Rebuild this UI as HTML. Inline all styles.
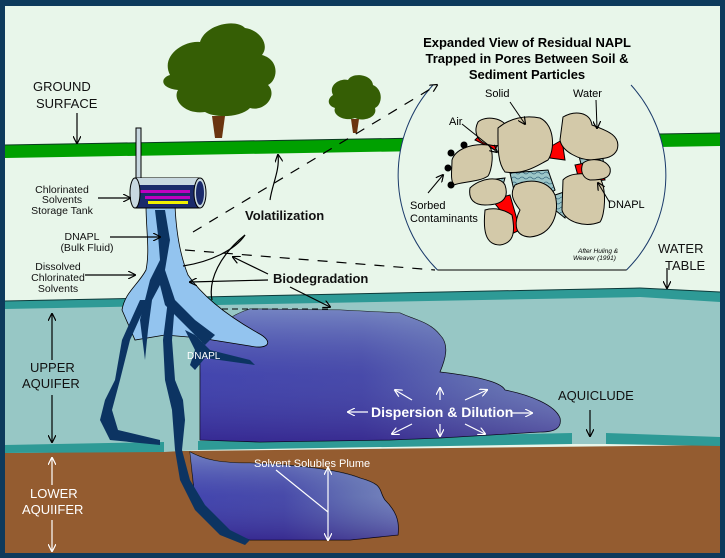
<!DOCTYPE html>
<html><head><meta charset="utf-8"><style>
html,body{margin:0;padding:0;background:#fff}
svg{display:block}
text{font-family:"Liberation Sans",Arial,sans-serif}
</style></head><body>
<svg width="725" height="558" viewBox="0 0 725 558" xmlns="http://www.w3.org/2000/svg">
<defs>
<linearGradient id="pl" x1="0" y1="0" x2="1" y2="0">
<stop offset="0" stop-color="#3f3fae"/><stop offset="0.45" stop-color="#4545a8"/><stop offset="0.8" stop-color="#6a78b4"/><stop offset="1" stop-color="#7f8fc2"/></linearGradient>
<linearGradient id="plv" x1="0" y1="0" x2="0" y2="1">
<stop offset="0" stop-color="#8aa0cc" stop-opacity="0.7"/><stop offset="0.5" stop-color="#5560b0" stop-opacity="0.2"/><stop offset="1" stop-color="#301a80" stop-opacity="0.6"/></linearGradient>
<pattern id="wv" width="8" height="5" patternUnits="userSpaceOnUse"><rect width="8" height="5" fill="#9cc6c8"/><path d="M0,3 Q2,1 4,3 T8,3" fill="none" stroke="#3a6a80" stroke-width="0.8"/></pattern>
<marker id="ah" markerWidth="8" markerHeight="8" refX="7" refY="4" orient="auto" markerUnits="userSpaceOnUse"><path d="M0,0 L8,4 L0,8" fill="none" stroke="#000" stroke-width="1.2"/></marker>
<marker id="aw" markerWidth="8" markerHeight="8" refX="7" refY="4" orient="auto" markerUnits="userSpaceOnUse"><path d="M0,0 L8,4 L0,8" fill="none" stroke="#fff" stroke-width="1.2"/></marker>
</defs>
<rect width="725" height="558" fill="#0d3a5c"/>
<rect x="5" y="6" width="715" height="547" fill="#e8f6ea"/>
<!-- ground -->
<polygon points="5,145 720,133 720,146 5,158" fill="#00a000"/>
<line x1="5" y1="145" x2="720" y2="133" stroke="#0a3a20" stroke-width="1"/>
<!-- upper aquifer -->
<polygon points="5,301 640,290 720,295 720,440 5,447" fill="#97c7c5"/>
<polygon points="5,301 640,288 720,292 720,302 640,297 5,309" fill="#2e9a96"/>
<line x1="5" y1="301" x2="640" y2="288" stroke="#0d3a3a"/><line x1="640" y1="288" x2="720" y2="292" stroke="#0d3a3a"/>
<!-- lower -->
<polygon points="5,453 720,445 720,553 5,553" fill="#945c30"/>
<polygon points="5,445 164,442 164,452 5,453" fill="#2e9a96"/>
<polygon points="198,441 572,433 572,444 198,450" fill="#2e9a96"/>
<polygon points="606,433 720,437 720,446 606,444" fill="#2e9a96"/>
<polygon points="164,442 198,441 198,450 164,452" fill="#97c7c5"/>
<polygon points="572,433 606,433 606,444 572,444" fill="#97c7c5"/>
<!-- trees -->
<path d="M170,75 C160,55 185,40 200,42 C205,25 235,18 245,28 C260,30 270,45 262,55 C280,60 278,80 268,85 C278,95 265,112 250,108 C240,118 215,118 205,112 C185,115 172,100 178,90 C160,88 160,78 170,75 Z" fill="#355e05"/>
<path d="M212,116 L225,116 L222,138 L215,138 Z" fill="#6a3410"/>
<path d="M333,95 C328,85 340,78 348,80 C352,72 372,74 373,85 C384,90 382,105 375,108 C378,118 362,122 355,118 C345,122 332,115 335,108 C326,105 328,98 333,95 Z" fill="#355e05"/>
<path d="M351,119 L359,119 L357,133 L353,133 Z" fill="#6a3410"/>
<!-- circle -->
<path d="M437.5,270 A134,134 0 0 1 433,85 L631,85 A134,134 0 0 1 626.5,270 Z" fill="#e8f6ea"/>
<path d="M437.5,270 A134,134 0 0 1 433,85 M631,85 A134,134 0 0 1 626.5,270" fill="none" stroke="#1a3a6a" stroke-width="1"/>
<line x1="437.5" y1="270" x2="626.5" y2="270" stroke="#000" stroke-width="1"/>
<!-- particles -->
<g stroke="#000" stroke-width="1">
<path d="M510,173 L548,170 L555,190 L540,200 L515,195 Z" fill="url(#wv)"/>
<path d="M575,140 L600,135 L605,175 L585,180 Z" fill="url(#wv)"/>
<path d="M555,195 L570,190 L565,218 L555,210 Z" fill="url(#wv)"/>
<path d="M488,180 L505,178 L500,195 Z" fill="url(#wv)"/>
<path d="M548,148 L562,140 L565,160 L550,158 Z" fill="#f00"/>
<path d="M575,165 L600,160 L605,180 L580,183 Z" fill="#f00"/>
<path d="M492,200 L510,195 L520,230 L505,237 L500,210 Z" fill="#f00"/>
<path d="M475,140 L480,135 L500,140 L495,150 Z" fill="#f00"/>
<path d="M478,122 C485,115 505,118 507,128 C510,140 505,148 490,145 C475,142 474,130 478,122 Z" fill="#d3c9a9"/>
<path d="M452,160 C455,150 470,143 488,145 C495,150 492,170 488,176 C480,182 460,182 454,185 C450,180 452,170 452,160 Z" fill="#d3c9a9"/>
<path d="M498,128 C510,118 525,115 540,118 C555,125 555,150 548,160 C538,165 525,175 505,172 C497,162 498,145 498,128 Z" fill="#d3c9a9"/>
<path d="M563,117 C575,110 590,112 592,125 C605,130 622,135 617,150 C612,160 600,158 592,160 C580,160 562,152 560,140 Z" fill="#d3c9a9"/>
<path d="M470,188 C480,178 500,175 505,185 C510,200 500,205 485,205 C475,205 468,200 470,188 Z" fill="#d3c9a9"/>
<path d="M515,185 C530,178 548,180 555,195 C560,212 553,235 530,237 C512,236 515,220 520,210 C512,200 510,193 515,185 Z" fill="#d3c9a9"/>
<path d="M485,210 C495,207 505,210 512,215 C515,230 515,243 500,245 C485,245 483,230 485,210 Z" fill="#d3c9a9"/>
<path d="M563,180 C570,172 590,172 600,178 C607,190 605,215 600,222 C585,228 565,222 562,210 Z" fill="#d3c9a9"/>
<path d="M583,163 C590,158 605,158 610,168 C612,178 603,180 590,180 C582,178 580,170 583,163 Z" fill="#d3c9a9"/>
</g>
<g fill="#000"><circle cx="464" cy="145" r="3.5"/><circle cx="451" cy="153" r="3.5"/><circle cx="448" cy="168" r="3.5"/><circle cx="451" cy="185" r="3.5"/></g>
<g stroke="#000" stroke-width="1" fill="none">
<line x1="510" y1="102" x2="525" y2="124" marker-end="url(#ah)"/>
<line x1="462" y1="124" x2="497" y2="152" marker-end="url(#ah)"/>
<line x1="596" y1="100" x2="597" y2="128" marker-end="url(#ah)"/>
<line x1="610" y1="203" x2="598" y2="183" marker-end="url(#ah)"/>
<line x1="428" y1="193" x2="443" y2="175" marker-end="url(#ah)"/>
</g>
<g font-size="11" fill="#000">
<text x="485" y="97">Solid</text><text x="573" y="97">Water</text><text x="449" y="125">Air</text>
<text x="608" y="208">DNAPL</text>
<text x="410" y="209">Sorbed</text><text x="410" y="222">Contaminants</text>
<text x="578" y="253" font-size="6.5" font-style="italic">After Huling &amp;</text><text x="573" y="260" font-size="6.5" font-style="italic">Weaver (1991)</text>
</g>
<g font-size="13" font-weight="bold" text-anchor="middle" fill="#000">
<text x="527" y="47">Expanded View of Residual NAPL</text>
<text x="527" y="63">Trapped in Pores Between Soil &amp;</text>
<text x="527" y="79">Sediment Particles</text>
</g>
<!-- upper plume -->
<path d="M200,345 C212,330 230,315 250,309 L340,310 L400,313 C415,320 430,322 440,335 C450,345 445,360 440,372 C465,375 500,380 505,390 C530,395 555,405 560,418 C562,428 555,432 540,432 L440,438 L390,440 L260,442 L200,440 Z" fill="url(#pl)" stroke="#000" stroke-width="0.8"/>
<path d="M200,345 C212,330 230,315 250,309 L340,310 L400,313 C415,320 430,322 440,335 C450,345 445,360 440,372 C465,375 500,380 505,390 C530,395 555,405 560,418 C562,428 555,432 540,432 L440,438 L390,440 L260,442 L200,440 Z" fill="url(#plv)"/>
<path d="M212,309 L330,309" stroke="#000" stroke-dasharray="6,4"/>
<!-- lower plume -->
<path d="M190,452 C205,460 220,463 250,463 C300,465 340,470 360,478 C385,485 378,490 385,500 C395,510 400,520 398,535 L350,540 L250,540 C230,535 210,520 195,500 Z" fill="url(#pl)" stroke="#000" stroke-width="0.8"/>
<path d="M190,452 C205,460 220,463 250,463 C300,465 340,470 360,478 C385,485 378,490 385,500 C395,510 400,520 398,535 L350,540 L250,540 C230,535 210,520 195,500 Z" fill="url(#plv)"/>
<!-- bulk fluid -->
<path d="M146,205 L175,205 C176,230 180,255 188,275 C205,300 235,320 258,333 C275,342 268,350 250,346 L200,338 L165,335 L135,340 L122,310 C125,292 138,285 146,270 C150,250 146,230 146,205 Z" fill="#93c4ef" stroke="#000" stroke-width="0.8"/>
<!-- fingers -->
<g fill="#0c3462">
<path d="M155,210 L165,210 L170,240 L165,270 L175,300 L195,320 L215,335 L205,345 L185,325 L165,305 L160,285 L152,300 L148,330 L145,360 L140,320 L150,280 L160,260 L158,235 Z"/>
<path d="M140,300 L148,300 L130,340 L120,380 L112,410 L118,430 L160,440 L160,445 L110,440 L100,420 L105,400 L115,380 L122,340 Z"/>
<path d="M168,300 L175,302 L172,340 L175,380 L183,400 L185,420 L182,450 L190,480 L205,505 L230,530 L250,540 L245,545 L220,535 L195,510 L180,480 L175,450 L172,410 L165,380 L163,340 Z"/>
<path d="M185,330 L195,335 L210,350 L250,360 L255,365 L205,358 L195,370 L190,365 L195,350 Z"/>
</g>
<!-- tank -->
<rect x="136" y="128" width="5" height="52" fill="#c8d8e0" stroke="#000"/>
<rect x="135" y="178" width="65" height="30" fill="#1a2a6a" stroke="#000"/>
<rect x="135" y="178" width="65" height="7" fill="#c8d8e0"/>
<rect x="140" y="190" width="50" height="3" fill="#c000c0"/><rect x="145" y="196" width="45" height="3" fill="#c000c0"/><rect x="148" y="201" width="40" height="3" fill="#f0f000"/>
<ellipse cx="135" cy="193" rx="5" ry="15" fill="#c8d8e0" stroke="#000"/>
<ellipse cx="200" cy="193" rx="6" ry="15" fill="#c8d8e0" stroke="#000"/><ellipse cx="200" cy="193" rx="4" ry="12" fill="#1a2a6a"/>
<!-- lines -->
<g stroke="#000" stroke-width="1.2" fill="none">
<path d="M193,232 L437,85" stroke-dasharray="10,9" marker-end="url(#ah)"/>
<path d="M185,250 L435,270" stroke-dasharray="10,9"/>
<path d="M270,200 C272,185 280,170 278,155" marker-end="url(#ah)"/>
<path d="M183,266 C210,262 235,250 245,235"/>
<path d="M212,300 C208,280 220,255 245,235"/>
<line x1="268" y1="280" x2="190" y2="282" marker-end="url(#ah)"/>
<line x1="268" y1="274" x2="233" y2="257" marker-end="url(#ah)"/>
<line x1="290" y1="287" x2="330" y2="307" marker-end="url(#ah)"/>
<line x1="98" y1="198" x2="130" y2="198" marker-end="url(#ah)"/>
<line x1="110" y1="237" x2="160" y2="237" marker-end="url(#ah)"/>
<line x1="85" y1="275" x2="135" y2="275" marker-end="url(#ah)"/>
<line x1="77" y1="113" x2="77" y2="143" marker-end="url(#ah)"/>
<line x1="667" y1="268" x2="667" y2="288" marker-end="url(#ah)"/>
<line x1="590" y1="410" x2="590" y2="436" marker-end="url(#ah)"/>
<line x1="52" y1="360" x2="52" y2="314" marker-end="url(#ah)"/>
<line x1="52" y1="395" x2="52" y2="442" marker-end="url(#ah)"/>
</g>
<g stroke="#fff" stroke-width="1.2" fill="none">
<line x1="52" y1="485" x2="52" y2="458" marker-end="url(#aw)"/>
<line x1="52" y1="520" x2="52" y2="551" marker-end="url(#aw)"/>
<line x1="276" y1="470" x2="328" y2="512"/>
<line x1="328" y1="500" x2="328" y2="468" marker-end="url(#aw)"/>
<line x1="328" y1="500" x2="328" y2="540" marker-end="url(#aw)"/>
<line x1="368" y1="412" x2="348" y2="412" marker-end="url(#aw)"/>
<line x1="512" y1="413" x2="532" y2="413" marker-end="url(#aw)"/>
<line x1="412" y1="400" x2="395" y2="390" marker-end="url(#aw)"/>
<line x1="440" y1="400" x2="440" y2="388" marker-end="url(#aw)"/>
<line x1="465" y1="400" x2="487" y2="390" marker-end="url(#aw)"/>
<line x1="412" y1="424" x2="392" y2="434" marker-end="url(#aw)"/>
<line x1="440" y1="424" x2="440" y2="436" marker-end="url(#aw)"/>
<line x1="465" y1="424" x2="485" y2="434" marker-end="url(#aw)"/>
</g>
<!-- labels -->
<g font-size="13" fill="#111">
<text x="33" y="91">GROUND</text><text x="36" y="108">SURFACE</text>
<text x="658" y="253">WATER</text><text x="665" y="270">TABLE</text>
<text x="558" y="400">AQUICLUDE</text>
<text x="30" y="372">UPPER</text><text x="22" y="388">AQUIFER</text>
</g>
<g font-size="13" fill="#fff"><text x="30" y="498">LOWER</text><text x="22" y="514">AQUIIFER</text></g>
<g font-size="10.5" fill="#111" text-anchor="middle">
<text x="62" y="193">Chlorinated</text><text x="62" y="203">Solvents</text><text x="62" y="214">Storage Tank</text>
<text x="82" y="240">DNAPL</text><text x="87" y="251">(Bulk Fluid)</text>
<text x="58" y="270">Dissolved</text><text x="58" y="281">Chlorinated</text><text x="58" y="292">Solvents</text>
</g>
<g font-size="13" font-weight="bold" fill="#111"><text x="245" y="220">Volatilization</text><text x="273" y="283">Biodegradation</text></g>
<text x="371" y="417" font-size="14" font-weight="bold" fill="#fff">Dispersion &amp; Dilution</text>
<text x="254" y="467" font-size="11" fill="#fff">Solvent  Solubles  Plume</text>
<text x="187" y="359" font-size="10" fill="#fff">DNAPL</text>
</svg>
</body></html>
